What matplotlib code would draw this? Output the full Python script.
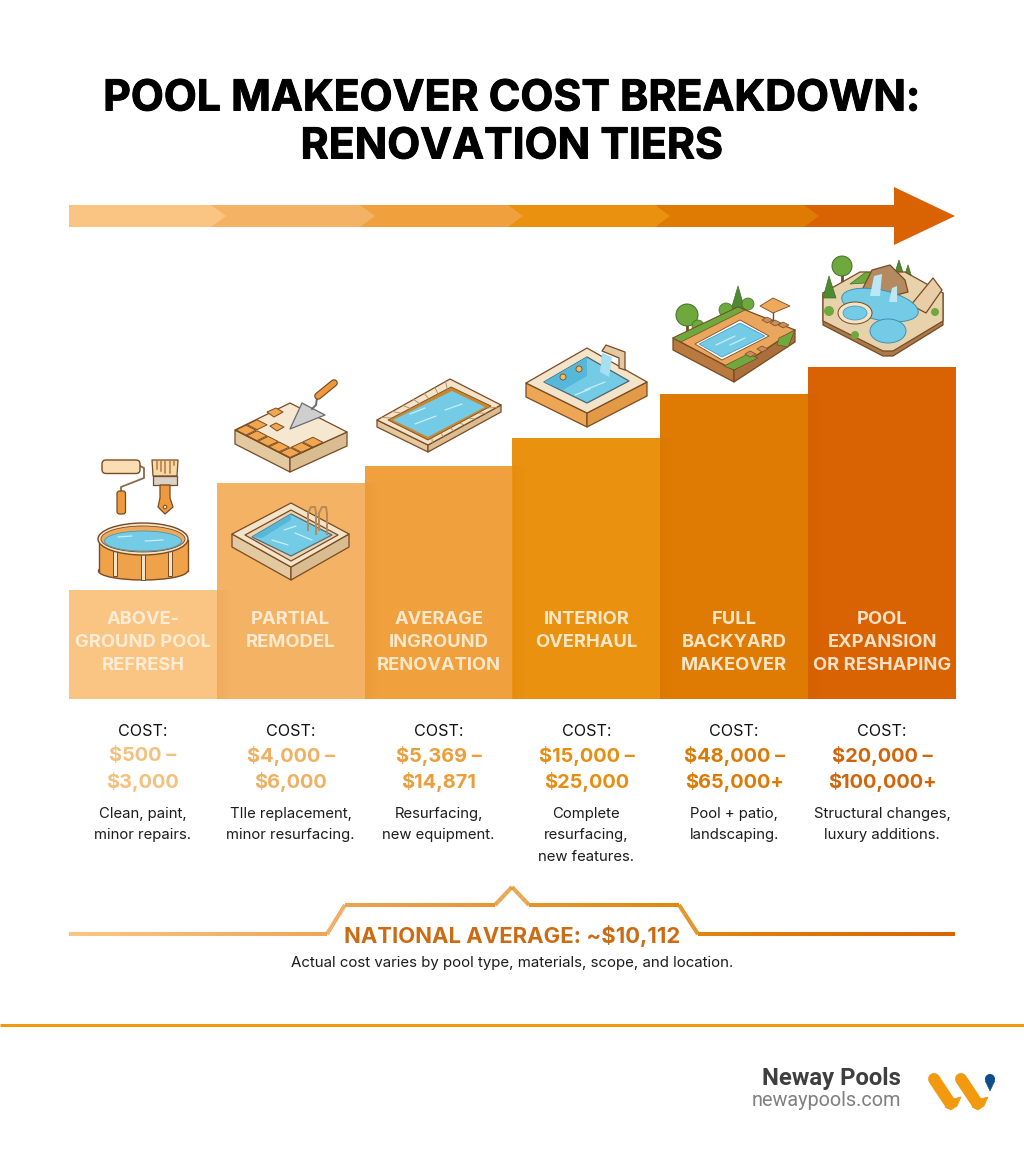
import matplotlib
matplotlib.use('Agg')
import matplotlib.patheffects as pe
import matplotlib.pyplot as plt
import numpy as np
from matplotlib.collections import LineCollection
from matplotlib.colors import to_rgb
from matplotlib.patches import Circle, Ellipse, FancyBboxPatch, Polygon, Rectangle

tiers = [['ABOVE-', 'GROUND POOL', 'REFRESH'], ['PARTIAL', 'REMODEL'], ['AVERAGE', 'INGROUND', 'RENOVATION'],
         ['INTERIOR', 'OVERHAUL'], ['FULL', 'BACKYARD', 'MAKEOVER'], ['POOL', 'EXPANSION', 'OR RESHAPING']]
bar_heights = [109, 216, 233, 261, 305, 332]
bar_colors = ['#FAC583', '#F4B264', '#F0A03C', '#EA910F', '#DF7B02', '#D96202']
cost_colors = ['#F5C07E', '#EFB062', '#EC9E3A', '#E68E12', '#DC7A06', '#D2640A']
costs = [['$500 –', '$3,000'], ['$4,000 –', '$6,000'], ['$5,369 –', '$14,871'],
         ['$15,000 –', '$25,000'], ['$48,000 –', '$65,000+'], ['$20,000 –', '$100,000+']]
descs = [['Clean, paint,', 'minor repairs.'], ['TIle replacement,', 'minor resurfacing.'], ['Resurfacing,', 'new equipment.'],
         ['Complete', 'resurfacing,', 'new features.'], ['Pool + patio,', 'landscaping.'], ['Structural changes,', 'luxury additions.']]
title_lines = ['POOL MAKEOVER COST BREAKDOWN:', 'RENOVATION TIERS']
average_label = 'NATIONAL AVERAGE: ~$10,112'
note = 'Actual cost varies by pool type, materials, scope, and location.'

WATER = '#74CBE6'
WATER_D = '#55B8DA'
EDGE = '#7A4A22'
CREAM = '#F3E3C8'
SAND = '#E3C9A0'
ORANGE = '#F0A24A'
GREEN = '#6FA83C'
GREEN_D = '#4E8A30'

plt.rcParams['font.family'] = ['Inter', 'DejaVu Sans']
fig = plt.figure(figsize=(10.24, 11.54), dpi=100, facecolor='white')

# stair bars on their own axes, everything else in pixel coords on top
ax = fig.add_axes([69 / 1024, (1154 - 699) / 1154, 887 / 1024, 332 / 1154])
ax.bar(range(6), bar_heights, width=1.0, color=bar_colors, linewidth=0)
ax.set_xlim(-0.5, 5.5)
ax.set_ylim(0, 332)
ax.axis('off')

ov = fig.add_axes([0, 0, 1, 1], zorder=3)
ov.patch.set_alpha(0)
ov.axis('off')


def poly(pts, fc, ec=EDGE, lw=0.9, z=5):
    ov.add_patch(Polygon(pts, closed=True, facecolor=fc, edgecolor=ec, linewidth=lw, joinstyle='round', zorder=z))


def slab(left, top, right, bottom, depth, fc=CREAM, side_l=SAND, side_r='#D9BC90', z=5):
    # isometric block: top face plus two visible sides
    l2 = (left[0], left[1] + depth)
    b2 = (bottom[0], bottom[1] + depth)
    r2 = (right[0], right[1] + depth)
    poly([left, bottom, b2, l2], side_l, z=z)
    poly([bottom, right, r2, b2], side_r, z=z)
    poly([left, top, right, bottom], fc, z=z)


def lerp(a, b, t):
    return (a[0] + (b[0] - a[0]) * t, a[1] + (b[1] - a[1]) * t)


def iso(left, top, right, bottom, u, v):
    return lerp(lerp(left, top, u), lerp(bottom, right, u), v)


def ripple(pts, z=7):
    for p, q in pts:
        ov.plot([p[0], q[0]], [p[1], q[1]], color='#C8EEF7', lw=0.9, zorder=z, solid_capstyle='round')


# soft shade on the left edge of each stair
x_edges = np.linspace(69, 956, 7)
for i in range(1, 6):
    grad = np.zeros((1, 24, 4))
    grad[..., :3] = to_rgb('#A85A00')
    grad[..., 3] = np.linspace(0.07, 0, 24)
    ov.imshow(grad, extent=(x_edges[i], x_edges[i] + 14, 699, 699 - bar_heights[i - 1]), aspect='auto', zorder=1)

# top arrow, drawn back to front so every chevron tip overlaps the next one
band_top, band_bot = 205, 227
tips = [226, 375, 523, 670, 819, 894]
bases = [69, 211, 360, 508, 655, 804]
for i in range(5, -1, -1):
    b = bases[i]
    if i == 5:
        pts = [(b, band_top), (894, band_top), (894, 187), (955, 216), (894, 245), (894, band_bot), (b, band_bot)]
    else:
        pts = [(b, band_top), (tips[i] - 15, band_top), (tips[i], 216), (tips[i] - 15, band_bot), (b, band_bot)]
    ov.add_patch(Polygon(pts, closed=True, facecolor=bar_colors[i], edgecolor='none', zorder=2 + (5 - i) * 0.01))

# round pool with roller and brush
ov.add_patch(FancyBboxPatch((102, 460), 38, 13.5, boxstyle='round,pad=0,rounding_size=4', fc='#FBDDB4', ec=EDGE, lw=1, zorder=5))
ov.plot([140, 144, 144, 121, 121], [466, 468, 478, 487, 492], color='#8A6A4A', lw=1.3, zorder=4)
ov.add_patch(FancyBboxPatch((117, 491), 8.5, 23, boxstyle='round,pad=0,rounding_size=2.5', fc='#EE9A3C', ec=EDGE, lw=0.9, zorder=5))
poly([(152, 460), (178, 460), (177, 476), (153, 476)], '#F7D8A8')
for bx in [157, 161, 165, 170, 174]:
    ov.plot([bx, bx], [461, 473 - (bx % 5) * 2], color='#B57A3A', lw=1.1, zorder=6)
poly([(153, 476), (177, 476), (177, 485), (153, 485)], '#D9D2C8')
poly([(160, 485), (170, 485), (170, 498), (173, 507), (165, 514), (158, 507), (160, 498)], '#EE9A3C')
ov.add_patch(Circle((165, 507), 1.8, fc='#FBE3C0', ec=EDGE, lw=0.7, zorder=7))
ov.add_patch(Rectangle((98.5, 540), 89, 31, fc=ORANGE, ec='none', zorder=4))
ov.add_patch(Ellipse((143, 571), 89, 18, fc=ORANGE, ec=EDGE, lw=1, zorder=3))
ov.plot([98.5, 98.5], [540, 571], color=EDGE, lw=1, zorder=5)
ov.plot([187.5, 187.5], [540, 571], color=EDGE, lw=1, zorder=5)
for px, py in [(115, 576), (143, 580), (170, 576)]:
    ov.add_patch(Rectangle((px - 2, 548), 4, py - 548, fc=CREAM, ec=EDGE, lw=0.7, zorder=5))
ov.add_patch(Ellipse((143, 539), 90, 32, fc=CREAM, ec=EDGE, lw=1, zorder=6))
ov.add_patch(Ellipse((143, 539), 84, 26, fc='#EFA95A', ec=EDGE, lw=0.6, zorder=6))
ov.add_patch(Ellipse((143, 541), 77, 20, fc=WATER, ec='#3F90B0', lw=0.5, zorder=7))
ripple([((118, 537), (132, 536)), ((145, 541), (163, 540))], z=8)

# pool sitting on the partial remodel stair
slab((232, 534), (291, 503), (349, 534), (291, 567), 13)
poly([(245, 535), (291, 510), (338, 535), (291, 561)], '#E8D5B5')
poly([(252, 537), (291, 514), (332, 535), (291, 556)], WATER, ec='#5A6A70')
poly([(252, 537), (291, 514), (291, 520), (262, 538)], WATER_D, ec='none', z=6)
ripple([((272, 540), (288, 545)), ((295, 533), (312, 540)), ((284, 530), (296, 526))])
for lx in [310, 321]:
    ov.plot([lx - 2, lx - 2, lx + 1, lx + 5, lx + 6, lx + 6], [530, 513, 507, 507, 513, 534], color='#B58A5A', lw=1.4, zorder=8)

# tile patch and trowel
tl, tt, tr, tb = (235, 430), (290, 403), (347, 432), (290, 458)
slab(tl, tt, tr, tb, 14, fc='#F5E7D0')
du, dv = 0.2, 0.2
cells = [(0, 0), (0, 1), (0, 2), (0, 3), (0, 4), (1, 4), (2, 4), (1, 0)]
for cu, cv in cells:
    u0, v0 = cu * du + 0.01, cv * dv + 0.01
    u1, v1 = u0 + du - 0.02, v0 + dv - 0.02
    poly([iso(tl, tt, tr, tb, u0, v0), iso(tl, tt, tr, tb, u1, v0), iso(tl, tt, tr, tb, u1, v1), iso(tl, tt, tr, tb, u0, v1)],
         '#F2A74F', lw=0.7, z=6)
poly([(267, 412), (276, 408), (283, 412), (274, 417)], '#F2A74F', lw=0.7, z=6)
poly([(270, 426), (276, 423), (284, 427), (277, 431)], '#F2A74F', lw=0.7, z=6)
poly([(290, 429), (302, 403), (325, 415)], '#CFCFCF', ec='#6B6B6B', z=7)
ov.plot([312, 316, 317], [409, 405, 398], color='#6B6B6B', lw=1.4, zorder=7)
ov.plot([318, 334], [396, 383], color=EDGE, lw=5.5, zorder=7, solid_capstyle='round')
ov.plot([318, 334], [396, 383], color='#EE9A3C', lw=3.8, zorder=8, solid_capstyle='round')

# rectangular inground pool
al, at, ar, ab = (377, 420), (450, 379), (501, 405), (428, 445)
slab(al, at, ar, ab, 7, fc=CREAM)
poly([(388, 420), (451, 387), (491, 406), (428, 440)], '#C9862F', lw=0.6, z=6)
poly([(393, 420), (452, 391), (485, 407), (428, 437)], WATER, ec='none', z=7)
ripple([((415, 424), (436, 416)), ((445, 410), (462, 404)), ((410, 414), (425, 408))], z=8)
for t in np.linspace(0.06, 0.94, 7):
    for a, b, c, d in [(al, at, (388, 420), (451, 387)), (ab, ar, (428, 440), (491, 406))]:
        p = lerp(a, b, t)
        q = lerp(c, d, t)
        ov.plot([p[0], q[0]], [p[1], q[1]], color='#B08A5A', lw=0.6, zorder=8)

# interior overhaul pool with spout
il, it, ir, ib = (526, 383), (587, 348), (647, 382), (587, 413)
slab(il, it, ir, ib, 14, fc=CREAM, side_l='#EDA654', side_r='#E39A47')
poly([(544, 382), (587, 357), (629, 381), (587, 403)], WATER, ec='#4A6470', z=6)
poly([(544, 382), (587, 357), (587, 376), (563, 390)], WATER_D, ec='none', z=7)
ov.add_patch(Circle((563, 377), 3, fc='#F0C060', ec=EDGE, lw=0.6, zorder=8))
ov.add_patch(Circle((579, 369), 3, fc='#F0C060', ec=EDGE, lw=0.6, zorder=8))
ripple([((585, 390), (605, 382)), ((575, 395), (590, 389))], z=8)
poly([(602, 351), (606, 345), (625, 352), (625, 370), (619, 368), (619, 358)], SAND, z=8)
poly([(602, 353), (612, 357), (609, 377), (600, 372)], '#A6E0F0', ec='none', z=8)

# backyard makeover
yl, yt, yr, yb = (673, 338), (738, 307), (795, 330), (734, 370)
ov.add_patch(Circle((687, 315), 11, fc=GREEN, ec='#3F6E28', lw=0.7, zorder=4))
ov.plot([687, 687], [320, 335], color=EDGE, lw=2, zorder=3)
poly([(738, 286), (745, 310), (731, 310)], GREEN_D, ec='#3F6E28', lw=0.5, z=4)
ov.add_patch(Circle((698, 326), 6, fc=GREEN, ec='#3F6E28', lw=0.5, zorder=4))
ov.add_patch(Circle((726, 310), 7, fc=GREEN, ec='#3F6E28', lw=0.5, zorder=4))
ov.add_patch(Circle((748, 304), 6, fc=GREEN, ec='#3F6E28', lw=0.5, zorder=4))
slab(yl, yt, yr, yb, 12, fc='#EBA65E', side_l='#B9793F', side_r='#A9703C')
poly([(673, 338), (738, 307), (745, 310), (681, 342)], GREEN, lw=0.5, z=6)
poly([(724, 366), (748, 354), (758, 358), (734, 370)], GREEN, lw=0.5, z=6)
poly([(779, 338), (795, 330), (788, 347), (777, 345)], GREEN, lw=0.5, z=6)
poly([(695, 344), (740, 320), (769, 336), (722, 360)], 'white', ec=EDGE, lw=0.6, z=6)
poly([(699, 344), (740, 323), (765, 336), (722, 357)], WATER, ec='#3F90B0', lw=0.5, z=7)
ripple([((716, 345), (735, 336)), ((730, 345), (745, 338))], z=8)
poly([(760, 306), (773, 298), (790, 306), (773, 313)], '#F0A85A', lw=0.6, z=8)
ov.plot([773, 773], [310, 324], color=EDGE, lw=1, zorder=7)
for cx, cy in [(767, 320), (775, 323), (783, 325), (750, 354), (762, 349)]:
    poly([(cx - 5, cy), (cx, cy - 3), (cx + 6, cy), (cx, cy + 3)], '#C98F5A', lw=0.5, z=8)

# reshaped pool with rocks, falls and slide
poly([(823, 293), (823, 325), (883, 356), (893, 356), (943, 325), (943, 293)], '#A87A4C', z=4)
poly([(823, 293), (860, 272), (905, 272), (943, 293), (943, 321), (893, 351), (883, 351), (823, 321)], '#E7D2AC', z=5)
ov.add_patch(Circle((842, 266), 10, fc=GREEN, ec='#3F6E28', lw=0.7, zorder=4))
ov.plot([842, 842], [272, 288], color=EDGE, lw=2, zorder=3)
poly([(829, 276), (836, 298), (823, 298)], GREEN_D, ec='#3F6E28', lw=0.5, z=6)
poly([(899, 260), (906, 282), (892, 282)], GREEN_D, ec='#3F6E28', lw=0.5, z=4)
poly([(908, 265), (914, 284), (902, 284)], GREEN_D, ec='#3F6E28', lw=0.5, z=4)
poly([(850, 284), (866, 272), (880, 275), (880, 282)], GREEN, ec='#3F6E28', lw=0.5, z=5.5)
poly([(862, 290), (872, 270), (890, 265), (905, 280), (908, 292), (885, 298)], '#B48A60', z=6)
poly([(911, 305), (933, 278), (942, 290), (926, 313)], '#E9CDA6', z=6)
ov.add_patch(Ellipse((880, 305), 78, 30, angle=12, fc=WATER, ec='#3F90B0', lw=0.7, zorder=7))
ov.add_patch(Ellipse((888, 331), 36, 24, fc=WATER, ec='#3F90B0', lw=0.7, zorder=7))
ov.add_patch(Ellipse((855, 313), 34, 22, fc=CREAM, ec=EDGE, lw=0.7, zorder=8))
ov.add_patch(Ellipse((855, 313), 24, 14, fc=WATER, ec='#3F90B0', lw=0.5, zorder=9))
poly([(874, 276), (882, 274), (880, 296), (870, 296)], '#BCE8F4', ec='none', z=9)
poly([(892, 288), (897, 286), (897, 302), (889, 302)], '#BCE8F4', ec='none', z=9)
ov.add_patch(Circle((829, 311), 5, fc=GREEN, ec='none', zorder=8))
ov.add_patch(Circle((855, 335), 4, fc=GREEN, ec='none', zorder=8))
ov.add_patch(Circle((935, 312), 4, fc=GREEN, ec='none', zorder=8))

# tier text under and on the stairs
for i in range(6):
    xc = 69 + 147.83 * (i + 0.5)
    for j, line in enumerate(tiers[i]):
        ov.text(xc, 620 + j * 22.5, line, ha='center', va='center', fontsize=13.2, fontweight='bold', color='#FFF1DE', alpha=0.9, zorder=10)
    ov.text(xc, 731, 'COST:', ha='center', va='center', fontsize=11.6, color='#111111', zorder=10)
    for j, line in enumerate(costs[i]):
        ov.text(xc, 756 + j * 26, line, ha='center', va='center', fontsize=14.4, fontweight='bold', color=cost_colors[i], zorder=10)
    for j, line in enumerate(descs[i]):
        ov.text(xc, 814 + j * 21.5, line, ha='center', va='center', fontsize=10.7, color='#1C1C1C', zorder=10)

for j, line in enumerate(title_lines):
    t = ov.text(512, 99 + j * 48, line, ha='center', va='center', fontsize=30.8, fontweight='bold', color='black', zorder=10)
    t.set_path_effects([pe.withStroke(linewidth=0.7, foreground='black')])

# national average outline, colour runs along the x position
line_x = np.array([69, 327, 345, 495, 512, 529, 679, 698, 955])
line_y = np.array([934, 934, 905, 905, 887, 905, 905, 934, 934])
segs, seg_cols = [], []
stops = [to_rgb(c) for c in ['#FAC583', '#EBA050', '#E08A10', '#D96202']]
for k in range(len(line_x) - 1):
    n = 30
    xs = np.linspace(line_x[k], line_x[k + 1], n + 1)
    ys = np.linspace(line_y[k], line_y[k + 1], n + 1)
    for m in range(n):
        segs.append([(xs[m], ys[m]), (xs[m + 1], ys[m + 1])])
        t = (xs[m] - 69) / (955 - 69)
        seg_cols.append([np.interp(t, [0, 0.33, 0.66, 1], [s[ch] for s in stops]) for ch in range(3)])
ov.add_collection(LineCollection(segs, colors=seg_cols, linewidths=2.9, capstyle='butt', zorder=6))
ov.text(512, 936, average_label, ha='center', va='center', fontsize=15.9, fontweight='bold', color='#CB6C14', zorder=10)
ov.text(512, 963, note, ha='center', va='center', fontsize=10.8, color='#1C1C1C', zorder=10)

# footer
ov.plot([0, 1024], [1025, 1025], color='#F19A0E', lw=2.2, zorder=4, solid_capstyle='butt')
ov.text(901, 1079, 'Neway Pools', ha='right', va='center', fontsize=17.2, fontweight='bold', family='Roboto', color='#3F3F3F', zorder=10)
ov.text(901, 1101, 'newaypools.com', ha='right', va='center', fontsize=14.3, family='Roboto', color='#808080', zorder=10)
for dx in [0, 27]:
    ov.plot([934 + dx, 950 + dx], [1079, 1103], color='#F29A0F', lw=8.6, solid_capstyle='round', zorder=6)
    poly([(945 + dx, 1107), (951 + dx, 1110), (957 + dx, 1106), (961 + dx, 1097), (953 + dx, 1099)], '#F29A0F', ec='#F29A0F', lw=0.5, z=6)
ov.add_patch(Circle((990, 1079), 5, fc='#0F4C8A', ec='none', zorder=6))
poly([(985.3, 1081), (994.7, 1081), (990, 1091)], '#0F4C8A', ec='#0F4C8A', lw=0.4, z=6)

ov.set_xlim(0, 1024)
ov.set_ylim(1154, 0)

fig.savefig('out.png', dpi=100, facecolor='white')
